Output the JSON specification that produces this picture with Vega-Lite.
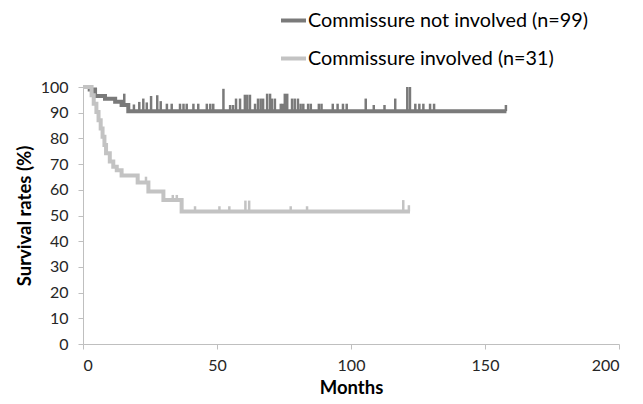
{
  "$schema": "https://vega.github.io/schema/vega-lite/v6.json",
  "width": 536,
  "height": 257,
  "autosize": {"type": "none"},
  "padding": {"left": 83, "top": 87, "right": 24, "bottom": 60},
  "background": "white",
  "config": {
    "view": {"stroke": null},
    "font": "Lato",
    "axis": {"grid": false, "domainColor": "#bfbfbf", "tickColor": "#bfbfbf", "labelColor": "#262626", "labelFontSize": 16, "titleFontSize": 18.5, "titleFontWeight": "bold", "titleColor": "#000000", "labelFont": "Lato", "titleFont": "Lato"}
  },
  "datasets": {
    "curves": [
      {"group": "Commissure not involved (n=99)", "month": 0, "surv": 100},
      {"group": "Commissure not involved (n=99)", "month": 2.5, "surv": 99},
      {"group": "Commissure not involved (n=99)", "month": 4.5, "surv": 96.5},
      {"group": "Commissure not involved (n=99)", "month": 8.2, "surv": 95.4},
      {"group": "Commissure not involved (n=99)", "month": 12, "surv": 94.3},
      {"group": "Commissure not involved (n=99)", "month": 14.4, "surv": 93},
      {"group": "Commissure not involved (n=99)", "month": 16.9, "surv": 90.6},
      {"group": "Commissure not involved (n=99)", "month": 158, "surv": 90.6},
      {"group": "Commissure involved (n=31)", "month": 0, "surv": 100},
      {"group": "Commissure involved (n=31)", "month": 3.2, "surv": 96.8},
      {"group": "Commissure involved (n=31)", "month": 4, "surv": 93.5},
      {"group": "Commissure involved (n=31)", "month": 5, "surv": 90.3},
      {"group": "Commissure involved (n=31)", "month": 5.8, "surv": 87.1},
      {"group": "Commissure involved (n=31)", "month": 6.6, "surv": 83.9},
      {"group": "Commissure involved (n=31)", "month": 7.3, "surv": 80.6},
      {"group": "Commissure involved (n=31)", "month": 8, "surv": 77.4},
      {"group": "Commissure involved (n=31)", "month": 8.6, "surv": 74.2},
      {"group": "Commissure involved (n=31)", "month": 10, "surv": 71},
      {"group": "Commissure involved (n=31)", "month": 11.3, "surv": 69},
      {"group": "Commissure involved (n=31)", "month": 12.6, "surv": 67.6},
      {"group": "Commissure involved (n=31)", "month": 14.4, "surv": 65.6},
      {"group": "Commissure involved (n=31)", "month": 20.4, "surv": 62.8},
      {"group": "Commissure involved (n=31)", "month": 24.4, "surv": 59.3},
      {"group": "Commissure involved (n=31)", "month": 30, "surv": 56},
      {"group": "Commissure involved (n=31)", "month": 36.8, "surv": 51.6},
      {"group": "Commissure involved (n=31)", "month": 122, "surv": 51.6}
    ],
    "censors": [
      {"group": "Commissure not involved (n=99)", "month": 15.4, "surv": 93, "top": 97.4},
      {"group": "Commissure not involved (n=99)", "month": 19, "surv": 90.6, "top": 93.2},
      {"group": "Commissure not involved (n=99)", "month": 21, "surv": 90.6, "top": 94.2},
      {"group": "Commissure not involved (n=99)", "month": 22.5, "surv": 90.6, "top": 95.5},
      {"group": "Commissure not involved (n=99)", "month": 23.8, "surv": 90.6, "top": 94},
      {"group": "Commissure not involved (n=99)", "month": 25.4, "surv": 90.6, "top": 96.5},
      {"group": "Commissure not involved (n=99)", "month": 27.7, "surv": 90.6, "top": 96.8},
      {"group": "Commissure not involved (n=99)", "month": 29, "surv": 90.6, "top": 94.5},
      {"group": "Commissure not involved (n=99)", "month": 31.3, "surv": 90.6, "top": 93.5},
      {"group": "Commissure not involved (n=99)", "month": 33.1, "surv": 90.6, "top": 93.5},
      {"group": "Commissure not involved (n=99)", "month": 36.2, "surv": 90.6, "top": 93.5},
      {"group": "Commissure not involved (n=99)", "month": 37.5, "surv": 90.6, "top": 93.5},
      {"group": "Commissure not involved (n=99)", "month": 38.7, "surv": 90.6, "top": 93.5},
      {"group": "Commissure not involved (n=99)", "month": 41.2, "surv": 90.6, "top": 93.5},
      {"group": "Commissure not involved (n=99)", "month": 43, "surv": 90.6, "top": 93.5},
      {"group": "Commissure not involved (n=99)", "month": 46.2, "surv": 90.6, "top": 93.5},
      {"group": "Commissure not involved (n=99)", "month": 47.5, "surv": 90.6, "top": 93.5},
      {"group": "Commissure not involved (n=99)", "month": 48.6, "surv": 90.6, "top": 93.5},
      {"group": "Commissure not involved (n=99)", "month": 52.4, "surv": 90.6, "top": 99.3},
      {"group": "Commissure not involved (n=99)", "month": 54.9, "surv": 90.6, "top": 93},
      {"group": "Commissure not involved (n=99)", "month": 56, "surv": 90.6, "top": 93},
      {"group": "Commissure not involved (n=99)", "month": 57.1, "surv": 90.6, "top": 95.5},
      {"group": "Commissure not involved (n=99)", "month": 58.6, "surv": 90.6, "top": 95.5},
      {"group": "Commissure not involved (n=99)", "month": 60.4, "surv": 90.6, "top": 97},
      {"group": "Commissure not involved (n=99)", "month": 61.3, "surv": 90.6, "top": 97},
      {"group": "Commissure not involved (n=99)", "month": 62.3, "surv": 90.6, "top": 97},
      {"group": "Commissure not involved (n=99)", "month": 64.2, "surv": 90.6, "top": 93.5},
      {"group": "Commissure not involved (n=99)", "month": 65.3, "surv": 90.6, "top": 95.5},
      {"group": "Commissure not involved (n=99)", "month": 66.3, "surv": 90.6, "top": 95.5},
      {"group": "Commissure not involved (n=99)", "month": 67.2, "surv": 90.6, "top": 95.5},
      {"group": "Commissure not involved (n=99)", "month": 68.7, "surv": 90.6, "top": 97.4},
      {"group": "Commissure not involved (n=99)", "month": 69.8, "surv": 90.6, "top": 97.4},
      {"group": "Commissure not involved (n=99)", "month": 70.5, "surv": 90.6, "top": 95.5},
      {"group": "Commissure not involved (n=99)", "month": 71.6, "surv": 90.6, "top": 95.5},
      {"group": "Commissure not involved (n=99)", "month": 73.8, "surv": 90.6, "top": 93.5},
      {"group": "Commissure not involved (n=99)", "month": 74.6, "surv": 90.6, "top": 93.5},
      {"group": "Commissure not involved (n=99)", "month": 75.3, "surv": 90.6, "top": 97.4},
      {"group": "Commissure not involved (n=99)", "month": 76.2, "surv": 90.6, "top": 97.4},
      {"group": "Commissure not involved (n=99)", "month": 78, "surv": 90.6, "top": 95.5},
      {"group": "Commissure not involved (n=99)", "month": 79, "surv": 90.6, "top": 95.5},
      {"group": "Commissure not involved (n=99)", "month": 80.2, "surv": 90.6, "top": 95.5},
      {"group": "Commissure not involved (n=99)", "month": 81.2, "surv": 90.6, "top": 93.5},
      {"group": "Commissure not involved (n=99)", "month": 82.2, "surv": 90.6, "top": 93.5},
      {"group": "Commissure not involved (n=99)", "month": 84, "surv": 90.6, "top": 93.5},
      {"group": "Commissure not involved (n=99)", "month": 85, "surv": 90.6, "top": 93.5},
      {"group": "Commissure not involved (n=99)", "month": 88, "surv": 90.6, "top": 93.5},
      {"group": "Commissure not involved (n=99)", "month": 89, "surv": 90.6, "top": 93.5},
      {"group": "Commissure not involved (n=99)", "month": 93.2, "surv": 90.6, "top": 93.5},
      {"group": "Commissure not involved (n=99)", "month": 95, "surv": 90.6, "top": 93.5},
      {"group": "Commissure not involved (n=99)", "month": 97, "surv": 90.6, "top": 93.5},
      {"group": "Commissure not involved (n=99)", "month": 98.4, "surv": 90.6, "top": 93.5},
      {"group": "Commissure not involved (n=99)", "month": 105.5, "surv": 90.6, "top": 95.5},
      {"group": "Commissure not involved (n=99)", "month": 108.5, "surv": 90.6, "top": 93},
      {"group": "Commissure not involved (n=99)", "month": 112.5, "surv": 90.6, "top": 93},
      {"group": "Commissure not involved (n=99)", "month": 116.5, "surv": 90.6, "top": 95.5},
      {"group": "Commissure not involved (n=99)", "month": 121, "surv": 90.6, "top": 100},
      {"group": "Commissure not involved (n=99)", "month": 122, "surv": 90.6, "top": 100},
      {"group": "Commissure not involved (n=99)", "month": 124, "surv": 90.6, "top": 93.5},
      {"group": "Commissure not involved (n=99)", "month": 125.5, "surv": 90.6, "top": 93.5},
      {"group": "Commissure not involved (n=99)", "month": 127, "surv": 90.6, "top": 93.5},
      {"group": "Commissure not involved (n=99)", "month": 129.5, "surv": 90.6, "top": 93.5},
      {"group": "Commissure not involved (n=99)", "month": 131, "surv": 90.6, "top": 93.5},
      {"group": "Commissure not involved (n=99)", "month": 157.8, "surv": 90.6, "top": 93},
      {"group": "Commissure involved (n=31)", "month": 23.5, "surv": 62.8, "top": 65.1},
      {"group": "Commissure involved (n=31)", "month": 33.5, "surv": 56, "top": 58},
      {"group": "Commissure involved (n=31)", "month": 35, "surv": 56, "top": 58},
      {"group": "Commissure involved (n=31)", "month": 41.8, "surv": 51.6, "top": 53.6},
      {"group": "Commissure involved (n=31)", "month": 50.9, "surv": 51.6, "top": 53.6},
      {"group": "Commissure involved (n=31)", "month": 54.6, "surv": 51.6, "top": 53.6},
      {"group": "Commissure involved (n=31)", "month": 60.6, "surv": 51.6, "top": 55.8},
      {"group": "Commissure involved (n=31)", "month": 62, "surv": 51.6, "top": 55.8},
      {"group": "Commissure involved (n=31)", "month": 77.5, "surv": 51.6, "top": 53.6},
      {"group": "Commissure involved (n=31)", "month": 83.6, "surv": 51.6, "top": 53.6},
      {"group": "Commissure involved (n=31)", "month": 119.5, "surv": 51.6, "top": 56},
      {"group": "Commissure involved (n=31)", "month": 121.6, "surv": 51.6, "top": 54}
    ]
  },
  "encoding": {
    "x": {"field": "month", "type": "quantitative", "scale": {"domain": [0, 200], "nice": false}, "axis": {"values": [0, 50, 100, 150, 200], "title": "Months", "tickSize": 5, "labelPadding": 8, "titlePadding": 5}},
    "y": {"field": "surv", "type": "quantitative", "scale": {"domain": [0, 100], "nice": false}, "axis": {"values": [0, 10, 20, 30, 40, 50, 60, 70, 80, 90, 100], "title": "Survival rates (%)", "tickSize": 5, "labelPadding": 10, "titlePadding": 6}},
    "color": {"field": "group", "type": "nominal", "scale": {"domain": ["Commissure not involved (n=99)", "Commissure involved (n=31)"], "range": ["#7a7a7a", "#c3c3c3"]}, "legend": {"title": null, "orient": "none", "legendX": 196, "legendY": -81, "symbolType": "stroke", "symbolSize": 625, "symbolStrokeWidth": 4, "labelFontSize": 19.8, "labelFont": "Lato", "labelColor": "#000000", "rowPadding": 13, "labelOffset": 0, "labelLimit": 400}}
  },
  "layer": [
    {
      "data": {"name": "censors"},
      "mark": {"type": "rule", "strokeWidth": 2.5, "clip": false},
      "encoding": {"y2": {"field": "top"}}
    },
    {
      "data": {"name": "curves"},
      "mark": {"type": "line", "interpolate": "step-after", "strokeWidth": 4, "strokeJoin": "miter"},
      "encoding": {}
    }
  ]
}
